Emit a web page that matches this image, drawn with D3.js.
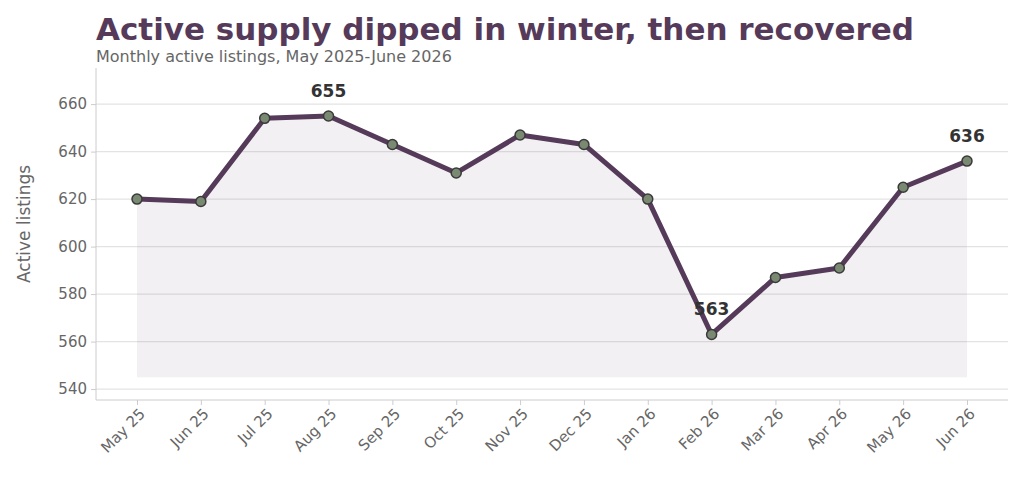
<!DOCTYPE html>
<html lang="en">
  <head>
    <meta charset="UTF-8" />
    <title>Active supply</title>
    <script src="https://d3js.org/d3.v7.min.js"></script>
    <style>
      body { margin: 0; background: #fff; font-family: "DejaVu Sans", sans-serif; }
      svg { display: block; }
    </style>
  </head>
  <body>
    <svg width="1024" height="495"></svg>
    <script>
      const months = ["May 25", "Jun 25", "Jul 25", "Aug 25", "Sep 25", "Oct 25", "Nov 25",
        "Dec 25", "Jan 26", "Feb 26", "Mar 26", "Apr 26", "May 26", "Jun 26"];
      const listings = [620, 619, 654, 655, 643, 631, 647, 643, 620, 563, 587, 591, 625, 636];
      const yTicks = [540, 560, 580, 600, 620, 640, 660];
      const labelled = ["Aug 25", "Feb 26", "Jun 26"];

      const svg = d3.select("svg");
      const plotLeft = 96, plotRight = 1008, plotTop = 68, plotBottom = 400;
      const accent = "#553a5a";

      const x = d3.scalePoint().domain(months).range([137, 967]);
      const y = d3.scaleLinear().domain([535.4, 675.2]).range([plotBottom, plotTop]);

      // grid
      svg.selectAll("line.grid").data(yTicks).join("line")
        .attr("x1", plotLeft).attr("x2", plotRight)
        .attr("y1", (d) => y(d)).attr("y2", (d) => y(d))
        .attr("stroke", "#e3e3e3").attr("stroke-width", 1.2);

      // area
      const data = months.map((m, i) => ({ m, v: listings[i] }));
      svg.append("path").datum(data)
        .attr("d", d3.area().x((d) => x(d.m)).y0(y(545)).y1((d) => y(d.v)))
        .attr("fill", accent).attr("opacity", 0.08);

      // axes
      const ya = svg.append("g").attr("transform", `translate(${plotLeft},0)`)
        .call(d3.axisLeft(y).tickValues(yTicks).tickSize(5).tickPadding(4));
      const xa = svg.append("g").attr("transform", `translate(0,${plotBottom})`)
        .call(d3.axisBottom(x).tickSize(5).tickPadding(4));
      [ya, xa].forEach((g) => {
        g.select(".domain").remove();
        g.selectAll("line").attr("stroke", "#ccc");
        g.selectAll("text").attr("fill", "#666").attr("font-size", 15)
          .attr("font-family", "DejaVu Sans");
      });
      xa.selectAll("text").attr("text-anchor", "end")
        .attr("transform", "rotate(-45)").attr("dx", "-0.3em").attr("dy", "0.5em");
      svg.append("line").attr("x1", plotLeft).attr("x2", plotLeft)
        .attr("y1", plotTop).attr("y2", plotBottom).attr("stroke", "#ccc");
      svg.append("line").attr("x1", plotLeft).attr("x2", plotRight)
        .attr("y1", plotBottom).attr("y2", plotBottom).attr("stroke", "#ccc");

      // line
      svg.append("path").datum(data)
        .attr("d", d3.line().x((d) => x(d.m)).y((d) => y(d.v)))
        .attr("fill", "none").attr("stroke", accent).attr("stroke-width", 5)
        .attr("stroke-linejoin", "round");
      svg.selectAll("circle").data(data).join("circle")
        .attr("cx", (d) => x(d.m)).attr("cy", (d) => y(d.v)).attr("r", 5)
        .attr("fill", "#7a8a72").attr("stroke", "#3a3a3a").attr("stroke-width", 1.5);

      svg.selectAll("text.lab").data(data.filter((d) => labelled.includes(d.m))).join("text")
        .attr("x", (d) => x(d.m)).attr("y", (d) => y(d.v) - 19)
        .attr("text-anchor", "middle").attr("font-size", 17).attr("font-weight", "bold")
        .attr("fill", "#333").text((d) => d.v);

      const midY = (plotTop + plotBottom) / 2 - 10;
      svg.append("text").attr("x", 30).attr("y", midY)
        .attr("transform", `rotate(-90,30,${midY})`)
        .attr("text-anchor", "middle").attr("font-size", 17).attr("fill", "#666")
        .text("Active listings");

      svg.append("text").attr("x", 96).attr("y", 40).attr("font-size", 31)
        .attr("font-weight", "bold").attr("fill", accent)
        .text("Active supply dipped in winter, then recovered");
      svg.append("text").attr("x", 96).attr("y", 62).attr("font-size", 16).attr("fill", "#666")
        .text("Monthly active listings, May 2025-June 2026");
    </script>
  </body>
</html>
